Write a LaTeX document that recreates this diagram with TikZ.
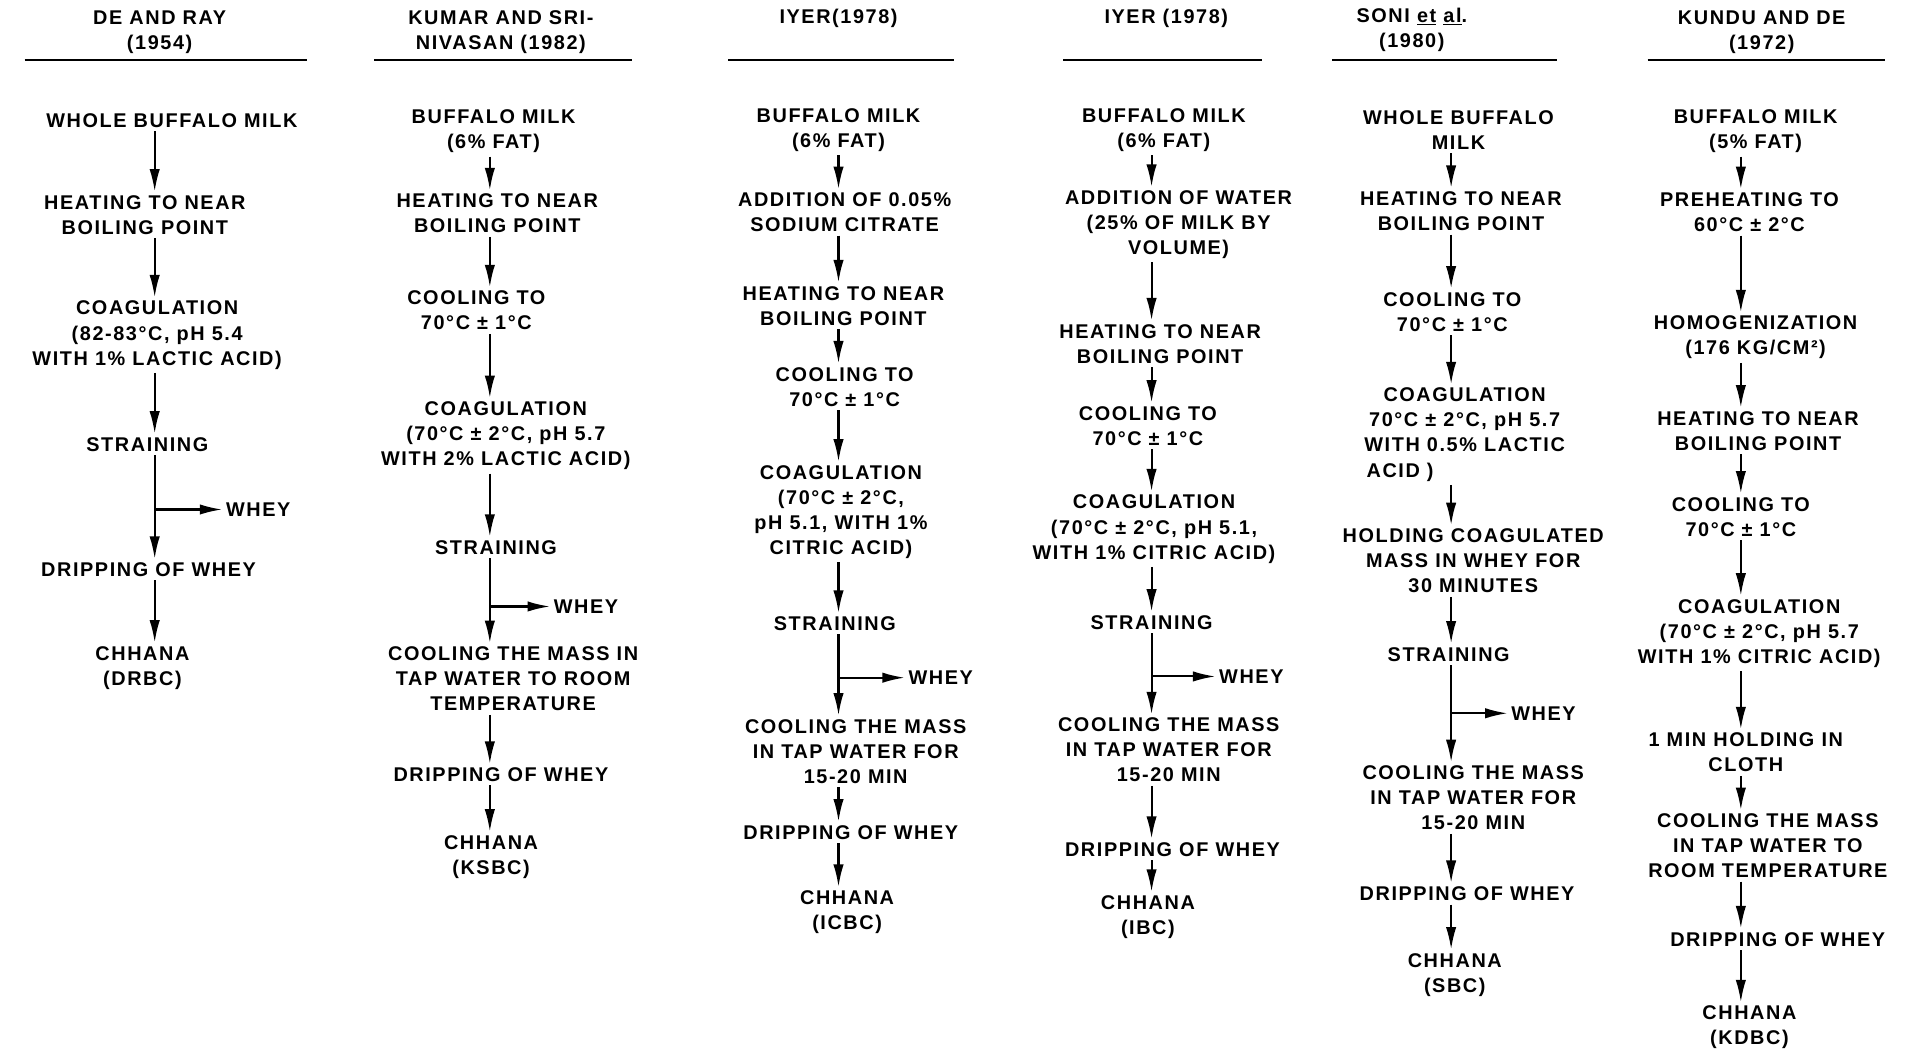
\documentclass[tikz,border=0pt]{standalone}
\usepackage{fontspec}
\setmainfont{Liberation Sans}[LetterSpace=8]
\usetikzlibrary{arrows.meta}
\begin{document}
\begin{tikzpicture}[x=0.025cm, y=-0.025cm,
	stp/.style={align=center, inner sep=2pt, font=\fontsize{11.5}{14.5}\selectfont\bfseries},
	flow/.style={line width=1.2pt, >={Latex[length=13pt,width=6pt]}, ->}]
	\useasboundingbox (0,0) rectangle (1568,854);
	%%Kopfzeilen
	\node[stp] (ha) at (130,26) {DE AND RAY\\(1954)};
	\node[stp] (hb) at (408,26) {KUMAR AND SRI-\\NIVASAN (1982)};
	\node[stp] (hc) at (683,15) {IYER(1978)};
	\node[stp] (hd) at (950,15) {IYER (1978)};
	\node[stp] (he) at (1150,24) {SONI \underline{et} \underline{al}.\\(1980)};
	\node[stp] (hf) at (1435,26) {KUNDU AND DE\\(1972)};
	\foreach \xa/\xb in {20/250,305/515,593/777,866/1028,1085/1268,1342/1535}
		\draw[line width=1.4pt] (\xa,49) -- (\xb,49);
	%%Spalten
	\coordinate (ca) at (126,0);
	\coordinate (cb) at (399,0);
	\coordinate (cc) at (683,0);
	\coordinate (cd) at (938,0);
	\coordinate (ce) at (1182,0);
	\coordinate (cf) at (1418,0);
	%%De und Ray
	\node[stp] (a0) at (140,98) {WHOLE BUFFALO MILK};
	\node[stp] (a1) at (118,175) {HEATING TO NEAR\\BOILING POINT};
	\node[stp] (a2) at (128,273) {COAGULATION\\(82-83°C, pH 5.4\\WITH 1\% LACTIC ACID)};
	\node[stp] (a3) at (120,362) {STRAINING};
	\node[stp] (a4) at (121,464) {DRIPPING OF WHEY};
	\node[stp] (a5) at (116,544) {CHHANA\\(DRBC)};
	\node[stp, anchor=west] (wa) at (181,415) {WHEY};
	%%Kumar und Srinivasan
	\node[stp] (b0) at (402,107) {BUFFALO MILK\\(6\% FAT)};
	\node[stp] (b1) at (405,174) {HEATING TO NEAR\\BOILING POINT};
	\node[stp] (b2) at (388,253) {COOLING TO\\70°C ± 1°C};
	\node[stp] (b3) at (412,355) {COAGULATION\\(70°C ± 2°C, pH 5.7\\WITH 2\% LACTIC ACID)};
	\node[stp] (b4) at (404,446) {STRAINING};
	\node[stp] (b5) at (418,553) {COOLING THE MASS IN\\TAP WATER TO ROOM\\TEMPERATURE};
	\node[stp] (b6) at (408,631) {DRIPPING OF WHEY};
	\node[stp] (b7) at (400,698) {CHHANA\\(KSBC)};
	\node[stp, anchor=west] (wb) at (448,494) {WHEY};
	%%Iyer 1
	\node[stp] (c0) at (683,106) {BUFFALO MILK\\(6\% FAT)};
	\node[stp] (c1) at (688,173) {ADDITION OF 0.05\%\\SODIUM CITRATE};
	\node[stp] (c2) at (687,249) {HEATING TO NEAR\\BOILING POINT};
	\node[stp] (c3) at (688,315) {COOLING TO\\70°C ± 1°C};
	\node[stp] (c4) at (685,417) {COAGULATION\\(70°C ± 2°C,\\pH 5.1, WITH 1\%\\CITRIC ACID)};
	\node[stp] (c5) at (680,508) {STRAINING};
	\node[stp] (c6) at (697,612) {COOLING THE MASS\\IN TAP WATER FOR\\15-20 MIN};
	\node[stp] (c7) at (693,678) {DRIPPING OF WHEY};
	\node[stp] (c8) at (690,743) {CHHANA\\(ICBC)};
	\node[stp, anchor=west] (wc) at (737,552) {WHEY};
	%%Iyer 2
	\node[stp] (d0) at (948,106) {BUFFALO MILK\\(6\% FAT)};
	\node[stp] (d1) at (960,183) {ADDITION OF WATER\\(25\% OF MILK BY\\VOLUME)};
	\node[stp] (d2) at (945,280) {HEATING TO NEAR\\BOILING POINT};
	\node[stp] (d3) at (935,347) {COOLING TO\\70°C ± 1°C};
	\node[stp] (d4) at (940,431) {COAGULATION\\(70°C ± 2°C, pH 5.1,\\WITH 1\% CITRIC ACID)};
	\node[stp] (d5) at (938,507) {STRAINING};
	\node[stp] (d6) at (952,611) {COOLING THE MASS\\IN TAP WATER FOR\\15-20 MIN};
	\node[stp] (d7) at (955,692) {DRIPPING OF WHEY};
	\node[stp] (d8) at (935,747) {CHHANA\\(IBC)};
	\node[stp, anchor=west] (wd) at (990,551) {WHEY};
	%%Soni et al.
	\node[stp] (e0) at (1188,106) {WHOLE BUFFALO\\MILK};
	\node[stp] (e1) at (1190,172) {HEATING TO NEAR\\BOILING POINT};
	\node[stp] (e2) at (1183,254) {COOLING TO\\70°C ± 1°C};
	\node[stp] (e3) at (1193,354) {COAGULATION\\70°C ± 2°C, pH 5.7\\WITH 0.5\% LACTIC\\ACID )\hspace*{6.5em}};
	\node[stp] (e4) at (1200,457) {HOLDING COAGULATED\\MASS IN WHEY FOR\\30 MINUTES};
	\node[stp] (e5) at (1180,533) {STRAINING};
	\node[stp] (e6) at (1200,650) {COOLING THE MASS\\IN TAP WATER FOR\\15-20 MIN};
	\node[stp] (e7) at (1195,728) {DRIPPING OF WHEY};
	\node[stp] (e8) at (1185,794) {CHHANA\\(SBC)};
	\node[stp, anchor=west] (we) at (1228,581) {WHEY};
	%%Kundu und De
	\node[stp] (f0) at (1430,107) {BUFFALO MILK\\(5\% FAT)};
	\node[stp] (f1) at (1425,173) {PREHEATING TO\\60°C ± 2°C};
	\node[stp] (f2) at (1430,275) {HOMOGENIZATION\\(176 KG/CM²)};
	\node[stp] (f3) at (1432,351) {HEATING TO NEAR\\BOILING POINT};
	\node[stp] (f4) at (1418,421) {COOLING TO\\70°C ± 1°C};
	\node[stp] (f5) at (1433,516) {COAGULATION\\(70°C ± 2°C, pH 5.7\\WITH 1\% CITRIC ACID)};
	\node[stp] (f6) at (1422,613) {1 MIN HOLDING IN\\CLOTH};
	\node[stp] (f7) at (1440,689) {COOLING THE MASS\\IN TAP WATER TO\\ROOM TEMPERATURE};
	\node[stp] (f8) at (1448,765) {DRIPPING OF WHEY};
	\node[stp] (f9) at (1425,837) {CHHANA\\(KDBC)};
	%%Pfeile
	\foreach \u/\v in {a0/a1,a1/a2,a2/a3,a3/a4,a4/a5}
		\draw[flow] (\u.south -| ca) -- (\v.north -| ca);
	\foreach \u/\v in {b0/b1,b1/b2,b2/b3,b3/b4,b4/b5,b5/b6,b6/b7}
		\draw[flow] (\u.south -| cb) -- (\v.north -| cb);
	\foreach \u/\v in {c0/c1,c1/c2,c2/c3,c3/c4,c4/c5,c5/c6,c6/c7,c7/c8}
		\draw[flow] (\u.south -| cc) -- (\v.north -| cc);
	\foreach \u/\v in {d0/d1,d1/d2,d2/d3,d3/d4,d4/d5,d5/d6,d6/d7,d7/d8}
		\draw[flow] (\u.south -| cd) -- (\v.north -| cd);
	\foreach \u/\v in {e0/e1,e1/e2,e2/e3,e3/e4,e4/e5,e5/e6,e6/e7,e7/e8}
		\draw[flow] (\u.south -| ce) -- (\v.north -| ce);
	\foreach \u/\v in {f0/f1,f1/f2,f2/f3,f3/f4,f4/f5,f5/f6,f6/f7,f7/f8,f8/f9}
		\draw[flow] (\u.south -| cf) -- (\v.north -| cf);
	%%Molke
	\foreach \w in {a,b,c,d,e}
		\draw[flow] (c\w |- w\w.west) -- (w\w.west);
\end{tikzpicture}
\end{document}
